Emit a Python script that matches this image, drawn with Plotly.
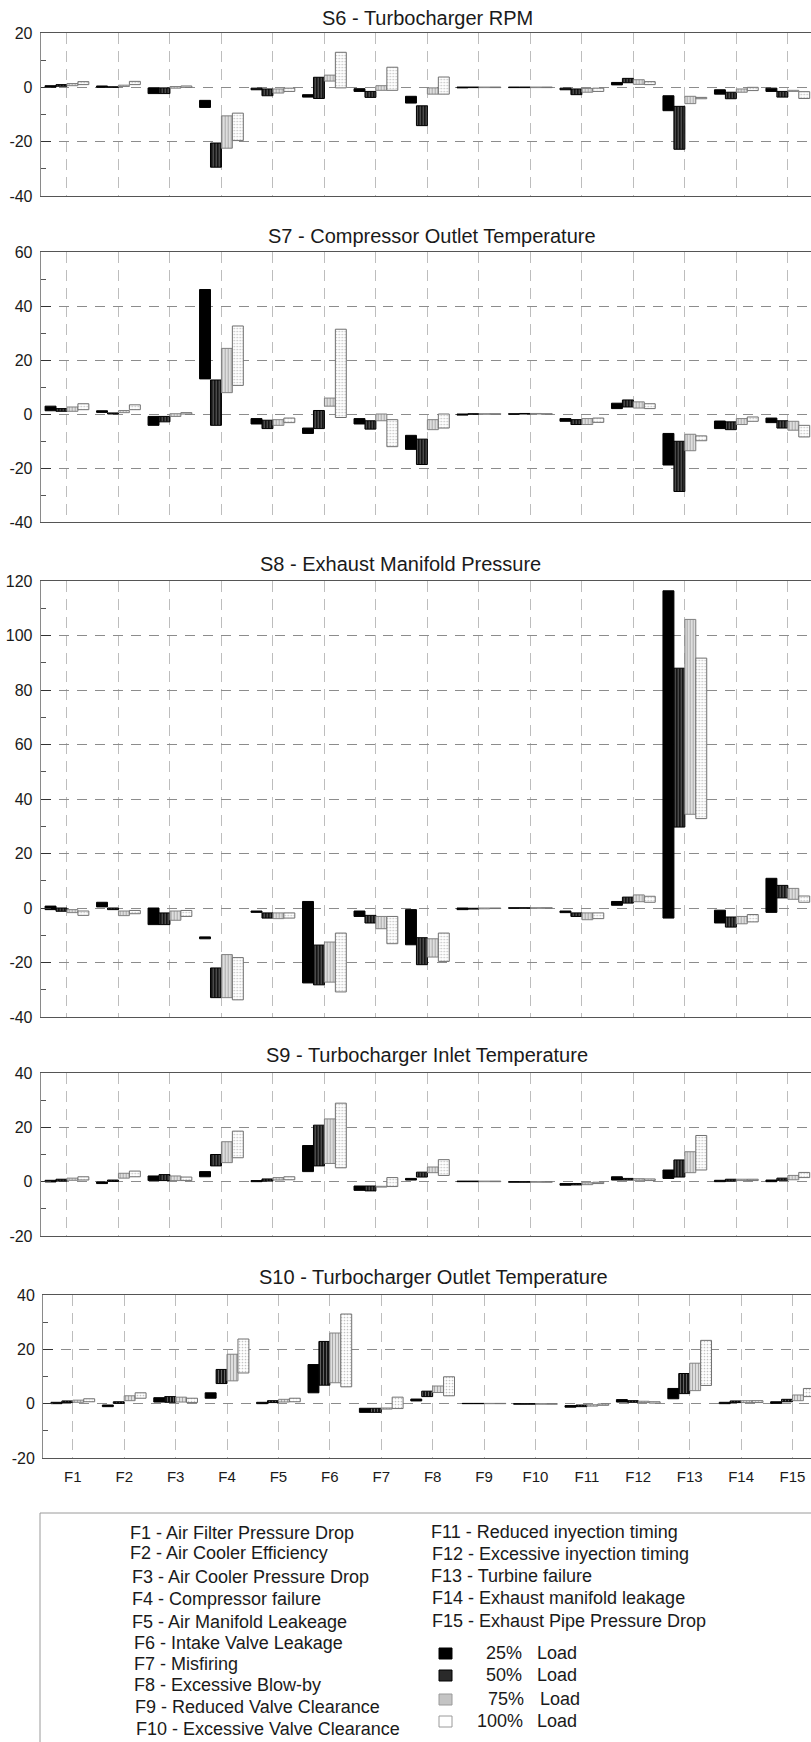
import plotly.graph_objects as go

W, H = 811, 1742

faults = ["F1", "F2", "F3", "F4", "F5", "F6", "F7", "F8", "F9", "F10",
          "F11", "F12", "F13", "F14", "F15"]
loads = ["25%", "50%", "75%", "100%"]

# (low, high) of each floating bar, per fault F1..F15
s6_25 = [(0, 0.6), (0, 0.5), (-2.3, -0.2), (-7.4, -4.8), (-0.9, -0.3), (-3.6, -2.7), (-1.5, -0.5), (-5.8, -3.3),
         (-0.2, 0.1), (-0.1, 0.1), (-0.9, -0.3), (0.9, 1.8), (-8.6, -3.1), (-2.5, -0.9), (-1.5, -0.3)]
s6_50 = [(0.4, 1.0), (0, 0.2), (-2.3, -0.2), (-29.4, -20.5), (-3.1, -0.6), (-4.1, 3.7), (-3.7, -1.5), (-14.1, -6.8),
         (-0.1, 0.1), (-0.1, 0.1), (-2.7, -0.6), (1.7, 3.3), (-22.8, -7.0), (-4.2, -1.8), (-3.6, -1.5)]
s6_75 = [(0.6, 1.4), (0.3, 0.8), (-0.3, 0.3), (-22.4, -10.5), (-2.1, -0.6), (2.3, 4.5), (-1.1, 0.6), (-2.5, -0.2),
         (-0.1, 0.1), (-0.1, 0.1), (-1.8, -0.4), (1.1, 2.8), (-6.0, -3.3), (-1.8, -0.6), (-1.5, -1.1)]
s6_100 = [(1.0, 2.1), (1.0, 2.2), (0, 0.5), (-19.6, -9.5), (-1.5, -0.3), (-0.2, 12.9), (-1.1, 7.4), (-2.5, 3.8),
          (-0.1, 0.1), (-0.1, 0.1), (-1.5, -0.3), (1.0, 2.1), (-4.2, -3.7), (-1.2, 0), (-4.1, -1.6)]

s7_25 = [(1.2, 2.9), (0.6, 1.2), (-4.2, -0.9), (13.0, 46.1), (-3.7, -1.7), (-7.2, -5.2), (-3.7, -1.7), (-13.1, -7.9),
         (-0.4, 0), (-0.1, 0.1), (-2.7, -1.7), (2.0, 4.0), (-18.9, -7.2), (-5.4, -2.6), (-3.2, -1.5)]
s7_50 = [(1.0, 2.0), (0, 0.4), (-2.9, -0.9), (-4.2, 12.6), (-5.4, -2.3), (-5.4, 1.3), (-5.6, -2.5), (-18.7, -9.3),
         (-0.1, 0.1), (0, 0.2), (-3.9, -2.1), (2.6, 5.2), (-28.7, -10.1), (-5.8, -2.9), (-5.2, -2.5)]
s7_75 = [(1.0, 2.6), (0.5, 1.3), (-0.9, 0.1), (7.9, 24.3), (-4.2, -2.1), (2.9, 5.9), (-2.5, 0), (-5.8, -2.1),
         (-0.1, 0.1), (0, 0.2), (-3.9, -1.7), (2.2, 4.5), (-13.6, -7.5), (-3.9, -1.7), (-6.0, -2.7)]
s7_100 = [(1.6, 3.8), (1.6, 3.4), (0, 0.5), (10.6, 32.6), (-3.2, -1.5), (-1.3, 31.4), (-12.1, -2.1), (-5.2, 0),
          (-0.1, 0.1), (-0.1, 0.1), (-3.1, -1.5), (2.0, 3.8), (-9.9, -8.1), (-2.7, -1.1), (-8.5, -4.2)]

s8_25 = [(-0.6, 0.7), (0.4, 2.1), (-6.1, 0), (-11.3, -10.6), (-1.6, -1.1), (-27.5, 2.4), (-3.1, -1.1), (-13.5, -0.6),
         (-0.6, 0), (-0.1, 0.1), (-1.7, -1.1), (1.0, 2.4), (-3.7, 116.4), (-5.5, -0.8), (-1.6, 10.9)]
s8_50 = [(-1.2, 0), (-0.6, 0), (-6.1, -1.8), (-32.9, -22.0), (-3.7, -1.8), (-28.2, -13.6), (-5.5, -2.7), (-20.8, -10.9),
         (-0.4, -0.1), (-0.1, 0.1), (-3.1, -1.8), (1.8, 4.0), (29.7, 88.0), (-7.0, -3.3), (3.7, 8.3)]
s8_75 = [(-1.7, -0.6), (-2.8, -1.1), (-4.5, -1.1), (-32.9, -17.1), (-3.9, -1.8), (-27.2, -12.5), (-7.6, -3.1),
         (-18.0, -11.3), (-0.3, 0), (-0.1, 0.1), (-4.3, -1.8), (2.3, 4.8), (34.4, 105.9), (-5.8, -3.1), (3.2, 7.2)]
s8_100 = [(-2.7, -1.1), (-2.1, -0.9), (-3.1, -0.9), (-33.7, -18.2), (-3.7, -1.8), (-30.8, -9.2), (-13.1, -3.1),
          (-19.6, -9.2), (-0.2, 0), (-0.1, 0.1), (-3.9, -1.8), (2.1, 4.3), (32.8, 91.7), (-5.1, -2.4), (2.1, 4.4)]

s9_25 = [(-0.1, 0.5), (-0.7, -0.1), (0.4, 2.1), (1.8, 3.7), (0, 0.4), (3.7, 13.3), (-3.2, -1.6), (0.6, 1.2),
         (0, 0.2), (-0.2, 0), (-1.3, -0.7), (0.6, 1.8), (1.2, 4.3), (0, 0.5), (0, 0.6)]
s9_50 = [(0.2, 0.9), (0.1, 0.6), (0.4, 2.6), (5.8, 10.0), (0.2, 1.0), (5.8, 20.8), (-3.4, -1.6), (1.7, 3.5),
         (0, 0.2), (-0.2, 0), (-1.2, -0.7), (0.6, 1.2), (1.7, 8.0), (0.2, 0.9), (0.5, 1.3)]
s9_75 = [(0.5, 1.3), (1.3, 3.1), (0.4, 2.1), (7.0, 14.7), (0.6, 1.5), (6.7, 23.1), (-2.0, -1.7), (3.3, 5.4),
         (0, 0.2), (-0.2, 0), (-1.1, -0.4), (0.5, 1.1), (3.3, 11.0), (0.4, 0.9), (0.7, 2.3)]
s9_100 = [(0.6, 1.8), (1.8, 3.9), (0.4, 1.7), (8.8, 18.6), (0.7, 1.8), (5.1, 28.9), (-1.8, 1.5), (2.3, 8.1),
          (0, 0.2), (-0.2, 0), (-0.7, -0.2), (0.4, 1.0), (4.3, 17.0), (0.4, 0.9), (1.5, 3.4)]

s10_25 = [(0, 0.5), (-1.1, -0.5), (0.6, 2.2), (2.0, 4.0), (0, 0.5), (4.0, 14.4), (-3.2, -1.7), (1.0, 1.7),
          (0, 0.1), (-0.2, 0), (-1.3, -0.7), (0.6, 1.5), (1.8, 5.6), (0, 0.5), (0.1, 0.7)]
s10_50 = [(0.4, 1.0), (0.1, 0.7), (0.5, 2.6), (7.4, 12.6), (0.4, 1.1), (6.8, 22.9), (-3.2, -1.7), (2.6, 4.6),
          (0, 0.1), (-0.2, 0), (-1.1, -0.5), (0.5, 1.1), (3.7, 11.1), (0.4, 1.0), (0.7, 1.6)]
s10_75 = [(0.5, 1.3), (1.1, 2.9), (0.6, 2.4), (8.4, 18.2), (0.6, 1.6), (7.7, 26.0), (-2.0, -1.6), (4.1, 6.5),
          (0, 0.1), (-0.2, 0), (-0.9, -0.4), (0.4, 0.9), (4.8, 14.9), (0.4, 1.1), (1.1, 3.2)]
s10_100 = [(0.7, 1.8), (2.0, 4.0), (0.4, 2.0), (11.3, 23.8), (0.7, 2.0), (6.2, 33.0), (-1.8, 2.4), (2.9, 9.9),
           (0, 0.1), (-0.2, 0), (-0.6, -0.1), (0.2, 0.7), (6.7, 23.3), (0.4, 1.1), (2.6, 5.6)]

panel_titles = ["S6 - Turbocharger RPM", "S7 - Compressor Outlet Temperature",
                "S8 - Exhaust Manifold Pressure", "S9 - Turbocharger Inlet Temperature",
                "S10 - Turbocharger Outlet Temperature"]
panel_ranges = [(-40, 20), (-40, 60), (-40, 120), (-20, 40), (-20, 40)]
panel_data = [[s6_25, s6_50, s6_75, s6_100], [s7_25, s7_50, s7_75, s7_100],
              [s8_25, s8_50, s8_75, s8_100], [s9_25, s9_50, s9_75, s9_100],
              [s10_25, s10_50, s10_75, s10_100]]

legend_left = ["F1 - Air Filter Pressure Drop", "F2 - Air Cooler Efficiency", "F3 - Air Cooler Pressure Drop",
               "F4 - Compressor failure", "F5 - Air Manifold Leakeage", "F6 - Intake Valve Leakage",
               "F7 - Misfiring", "F8 - Excessive Blow-by", "F9 - Reduced Valve Clearance",
               "F10 - Excessive Valve Clearance"]
legend_right = ["F11 - Reduced inyection timing", "F12 - Excessive inyection timing", "F13 - Turbine failure",
                "F14 - Exhaust manifold leakage", "F15 - Exhaust Pipe Pressure Drop"]

# ---------- styling / layout (pixels) ----------
FONT = "Liberation Sans, Arial, sans-serif"
TXT = "#1a1a1a"
panel_px = [(33, 196), (252, 522), (581, 1017), (1073, 1236), (1295, 1458)]
panel_left = [40.7, 40.7, 40.7, 40.7, 43.0]
panel_xrange = [(-0.51, 14.45)] * 4 + [(-0.58, 14.36)]
title_px = [(427, 18), (432, 236), (400, 564), (427, 1055), (433, 1277)]

styles = [
    dict(color="#000000", line="#000000", pattern=None),
    dict(color="#151515", line="#000000",
         pattern=dict(shape="|", fgcolor="#6a6a6a", bgcolor="#151515", size=3, solidity=0.3, fillmode="replace")),
    dict(color="#d4d4d4", line="#808080",
         pattern=dict(shape="|", fgcolor="#a4a4a4", bgcolor="#dedede", size=3, solidity=0.3, fillmode="replace")),
    dict(color="#ffffff", line="#707070",
         pattern=dict(shape=".", fgcolor="#c4c4c4", bgcolor="#ffffff", size=3, solidity=0.25, fillmode="replace")),
]


def fy(py):
    return 1 - py / H


def fx(px):
    return px / W


fig = go.Figure()
layout = dict(template="none", width=W, height=H, margin=dict(l=0, r=0, t=0, b=0, pad=0),
              paper_bgcolor="white", plot_bgcolor="white", barmode="group", bargap=0.15,
              bargroupgap=0.0, showlegend=False, font=dict(family=FONT, color=TXT))

annotations = []
shapes = []
for i in range(5):
    xa = "x" if i == 0 else f"x{i+1}"
    ya = "y" if i == 0 else f"y{i+1}"
    for j, series in enumerate(panel_data[i]):
        st = styles[j]
        base = [lo for lo, hi in series]
        height = [hi - lo for lo, hi in series]
        marker = dict(color=st["color"], line=dict(color=st["line"], width=1))
        if st["pattern"]:
            marker["pattern"] = st["pattern"]
        fig.add_trace(go.Bar(x=faults, y=height, base=base, name=loads[j] + " Load",
                             marker=marker, xaxis=xa, yaxis=ya, offsetgroup=str(j)))
    top, bot = panel_px[i]
    kx = "xaxis" if i == 0 else f"xaxis{i+1}"
    ky = "yaxis" if i == 0 else f"yaxis{i+1}"
    layout[kx] = dict(domain=[fx(panel_left[i]), 1.0], anchor=ya, type="category", automargin=False,
                      range=list(panel_xrange[i]), showgrid=True, gridcolor="#bdbdbd", griddash="11px,7px",
                      gridwidth=1, showline=True, linecolor="#555555", linewidth=1, mirror=True,
                      ticks="", showticklabels=(i == 4), tickfont=dict(size=15, family=FONT, color=TXT),
                      ticklabelstandoff=5, fixedrange=True, zeroline=False)
    ymin, ymax = panel_ranges[i]
    yticks = list(range(ymin, ymax + 1, 20))
    layout[ky] = dict(domain=[fy(bot), fy(top)], anchor=xa, range=[ymin, ymax], automargin=False,
                      tickmode="array", tickvals=yticks, ticktext=[str(v) for v in yticks],
                      showgrid=True, gridcolor="#8c8c8c", griddash="10px,8px", gridwidth=1,
                      zeroline=False, showline=True, linecolor="#8a8a8a", linewidth=1,
                      ticks="inside", ticklen=10, tickcolor="#333333", tickwidth=1,
                      minor=dict(tickmode="linear", tick0=0, dtick=10, ticks="inside", ticklen=5,
                                 tickcolor="#555555", showgrid=False),
                      tickfont=dict(size=16, family=FONT, color=TXT), ticklabelstandoff=4, fixedrange=True)
    tx, ty = title_px[i]
    annotations.append(dict(text=panel_titles[i], x=fx(tx), y=fy(ty), xref="paper", yref="paper",
                            xanchor="center", yanchor="middle", showarrow=False,
                            font=dict(size=20, family=FONT, color=TXT)))

# ---------- legend box (drawn) ----------
shapes.append(dict(type="rect", xref="paper", yref="paper", x0=fx(40), x1=1.02, y0=-0.02, y1=fy(1513),
                   line=dict(color="#9a9a9a", width=1), fillcolor="rgba(0,0,0,0)"))
left_pos = [(128, 1533), (128, 1553), (130, 1577), (130, 1599), (130, 1622), (132, 1643), (132, 1664),
            (132, 1685), (133, 1707), (133.5, 1729)]
right_pos = [(429, 1532), (430, 1554), (429, 1576), (430, 1598), (430, 1621)]
for txt, (px, py) in list(zip(legend_left, left_pos)) + list(zip(legend_right, right_pos)):
    annotations.append(dict(text=txt, x=fx(px), y=fy(py), xref="paper", yref="paper", xanchor="left",
                            yanchor="middle", showarrow=False, font=dict(size=18, family=FONT, color=TXT)))

load_y = [1654, 1676, 1700, 1722]
pct_x = [484, 484, 486, 475]
load_fill = ["#000000", "#2a2a2a", "#c4c4c4", "#ffffff"]
load_line = ["#000000", "#000000", "#9a9a9a", "#9a9a9a"]
for k in range(4):
    py = load_y[k]
    shapes.append(dict(type="rect", xref="paper", yref="paper", x0=fx(439), x1=fx(452),
                       y0=fy(py + 5), y1=fy(py - 6), fillcolor=load_fill[k],
                       line=dict(color=load_line[k], width=1)))
    annotations.append(dict(text=loads[k], x=fx(pct_x[k]), y=fy(py - 1), xref="paper", yref="paper",
                            xanchor="left", yanchor="middle", showarrow=False,
                            font=dict(size=18, family=FONT, color=TXT)))
    annotations.append(dict(text="Load", x=fx(535 if k != 2 else 538), y=fy(py - 1), xref="paper",
                            yref="paper", xanchor="left", yanchor="middle", showarrow=False,
                            font=dict(size=18, family=FONT, color=TXT)))

layout["annotations"] = annotations
layout["shapes"] = shapes
fig.update_layout(**layout)
fig.write_html("out.html")
